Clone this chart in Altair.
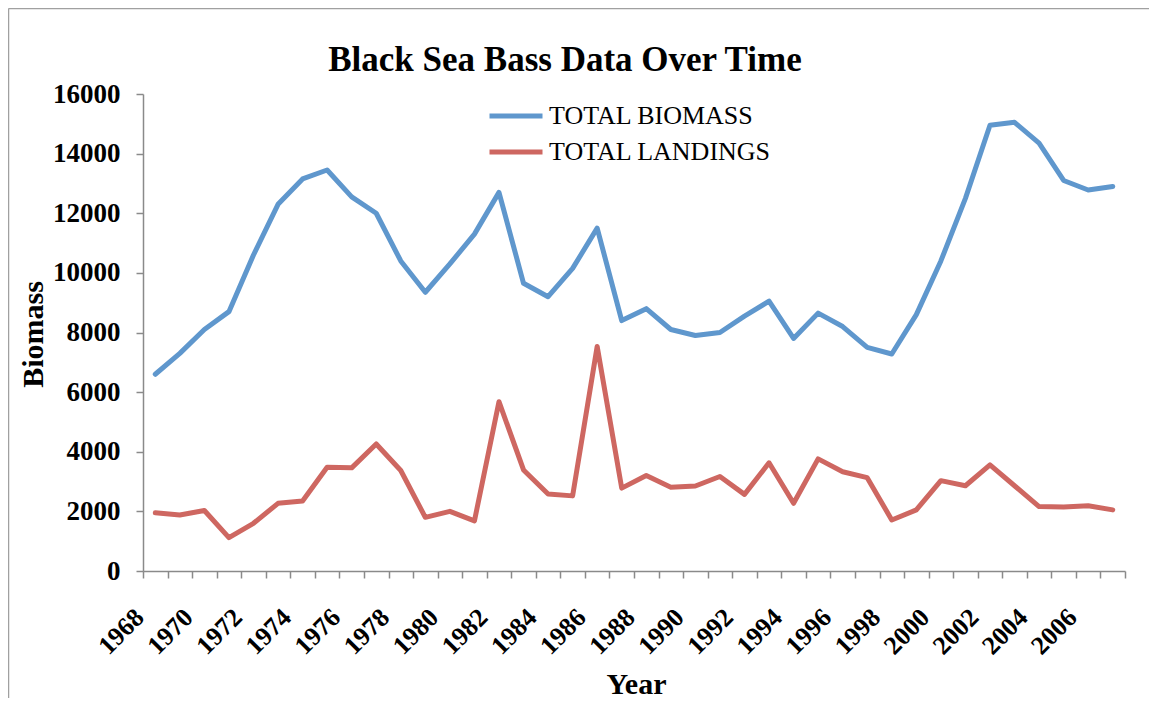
import altair as alt
import pandas as pd

years = list(range(1968, 2008))
biomass = [6600, 7300, 8100, 8700, 10600, 12300, 13150, 13450, 12550, 12000,
           10400, 9350, 10300, 11300, 12700, 9650, 9200, 10150, 11500, 8400,
           8800, 8100, 7900, 8000, 8550, 9050, 7800, 8650, 8200, 7500,
           7280, 8600, 10400, 12500, 14950, 15050, 14350, 13100, 12780, 12900]
landings = [1950, 1880, 2030, 1120, 1600, 2270, 2350, 3480, 3460, 4260,
            3370, 1800, 2000, 1680, 5680, 3390, 2580, 2520, 7530, 2780,
            3200, 2810, 2850, 3170, 2570, 3630, 2270, 3760, 3330, 3130,
            1710, 2050, 3030, 2860, 3560, 2860, 2160, 2150, 2190, 2050]
series = ["TOTAL BIOMASS", "TOTAL LANDINGS"]
colors = ["#5F97CD", "#CE6761"]
y_ticks = list(range(0, 16001, 2000))

df = pd.DataFrame({
    "Year": [str(y) for y in years] * 2,
    "Value": biomass + landings,
    "Series": [series[0]] * len(years) + [series[1]] * len(years),
})

FONT = "Liberation Serif"
AX = "#8a8a8a"

lines = alt.Chart(df).mark_line(strokeWidth=5, strokeCap="round", strokeJoin="round").encode(
    x=alt.X("Year:O", bandPosition=0.5,
            scale=alt.Scale(type="band", paddingInner=0, paddingOuter=0),
            axis=alt.Axis(title="Year", tickBand="extent",
                          labelExpr="toNumber(datum.value) % 2 == 0 ? datum.value : ''",
                          labelAngle=315, labelAlign="right", labelBaseline="middle",
                          labelOffset=-16, labelPadding=35, labelOverlap=False,
                          labelFont=FONT, labelFontSize=26, labelFontWeight="bold",
                          labelColor="black", domainColor=AX, tickColor=AX,
                          domainWidth=1.5, tickWidth=1.5, tickSize=7,
                          titleFont=FONT, titleFontSize=30, titleFontWeight="bold",
                          titleColor="black", titleX=493, titleY=122,
                          titleAlign="center", titleBaseline="alphabetic")),
    y=alt.Y("Value:Q", scale=alt.Scale(domain=[0, 16000], nice=False),
            axis=alt.Axis(title="Biomass", values=y_ticks, grid=False, format="d",
                          labelFont=FONT, labelFontSize=27, labelFontWeight="bold",
                          labelColor="black", labelPadding=16,
                          domainColor=AX, tickColor=AX, domainWidth=1.5,
                          tickWidth=1.5, tickSize=7,
                          titleFont=FONT, titleFontSize=30, titleFontWeight="bold",
                          titleColor="black", titleX=-110, titleY=240,
                          titleAngle=270, titleAlign="center", titleBaseline="middle")),
    color=alt.Color("Series:N", scale=alt.Scale(domain=series, range=colors),
                    legend=alt.Legend(title=None, orient="none", legendX=360, legendY=9,
                                      labelFont=FONT, labelFontSize=26, labelColor="black",
                                      labelLimit=400,
                                      symbolType="M-2.65,0H2.65", symbolSize=400,
                                      symbolStrokeWidth=5, rowPadding=10, padding=0,
                                      labelOffset=20)),
)

frame_src = pd.DataFrame({"b": [0]})
border_left = alt.Chart(frame_src).mark_rule(
    stroke="#a0a0a0", strokeWidth=1.5, clip=False
).encode(x=alt.value(-134.5), y=alt.value(-85.5), y2=alt.value(604))
border_top = alt.Chart(frame_src).mark_rule(
    stroke="#a0a0a0", strokeWidth=1.5, clip=False
).encode(x=alt.value(-134.5), x2=alt.value(1006), y=alt.value(-85.5))

chart = alt.layer(border_left, border_top, lines).properties(
    width=982, height=477,
    autosize=alt.AutoSizeParams(type="none"),
    padding={"left": 135, "top": 86, "right": 24, "bottom": 127},
    title=alt.TitleParams("Black Sea Bass Data Over Time", font=FONT, fontSize=35,
                          fontWeight="bold", color="black", anchor="middle",
                          frame="group", dx=-69, offset=-98, baseline="alphabetic"),
).configure_view(stroke=None)

chart.save("out.html", embed_options={"renderer": "svg", "actions": False})
